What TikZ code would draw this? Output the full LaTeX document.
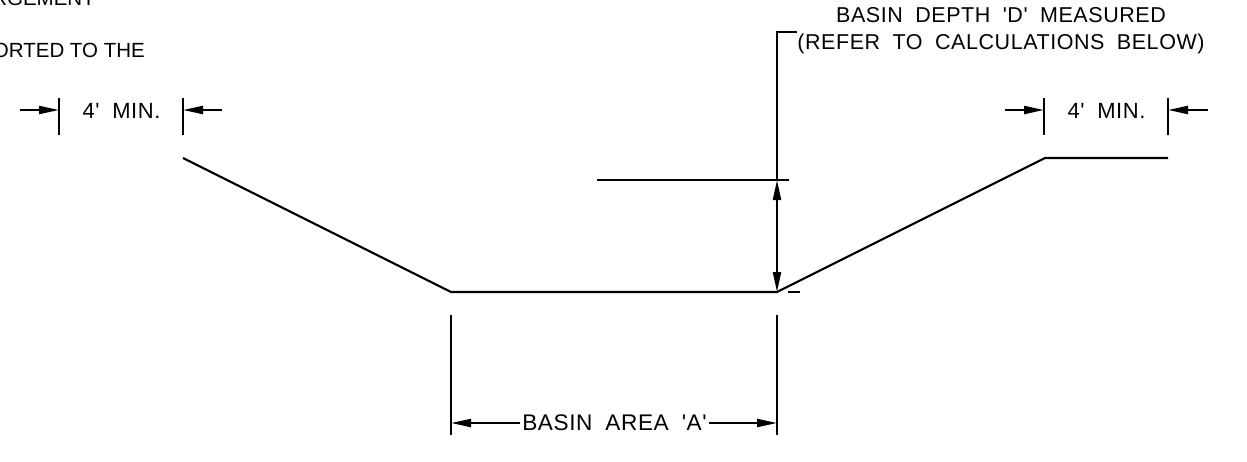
\documentclass[tikz,border=0pt]{standalone}
\usepackage{fontspec}
\setmainfont{Liberation Sans}
\newfontfamily\cadfont[LetterSpace=2.6,WordSpace=1.9]{Liberation Sans}
\usetikzlibrary{arrows.meta}
\tikzset{
  line/.style={line width=2.2pt,black},
  dim/.style={line width=2.2pt,black,-{Triangle[length=20pt,width=8pt]}},
  dimboth/.style={line width=2.2pt,black,{Triangle[length=20pt,width=8pt]}-{Triangle[length=20pt,width=8pt]}},
  cad/.style={inner sep=0pt,font=\cadfont\fontsize{22}{25}\selectfont,text=black},
  cadlabel/.style={inner sep=0pt,font=\cadfont\fontsize{21.5}{25}\selectfont,text=black},
  cadarea/.style={inner sep=0pt,font=\cadfont\fontsize{22.6}{25}\selectfont,text=black},
  note/.style={inner sep=0pt,anchor=base east,font=\fontsize{20.5}{24}\selectfont,text=black}
}
\begin{document}
\begin{tikzpicture}[x=1pt,y=-1pt]
\useasboundingbox (0,0) rectangle (1247,461);
% profile
\coordinate (p1) at (183,158);
\coordinate (p2) at (451,292);
\coordinate (p3) at (777,292);
\coordinate (p4) at (1045,158);
\coordinate (p5) at (1168,158);
\draw[line,line join=round] (p1) -- (p2) -- (p3) -- (p4) -- (p5);
% left 4' min
\coordinate (lt1) at (59,98); \coordinate (lb1) at (59,135);
\coordinate (lt2) at (183,98); \coordinate (lb2) at (183,135);
\draw[line] (lt1) -- (lb1);
\draw[line] (lt2) -- (lb2);
\coordinate (la1) at (20,110); \coordinate (la1e) at (59,110);
\coordinate (la2) at (222,110); \coordinate (la2e) at (183,110);
\draw[dim] (la1) -- (la1e);
\draw[dim] (la2) -- (la2e);
\node[cad] (minl) at (121.5,110.5) {4' MIN.};
% right 4' min
\coordinate (rt1) at (1044,98); \coordinate (rb1) at (1044,135);
\coordinate (rt2) at (1168,98); \coordinate (rb2) at (1168,135);
\draw[line] (rt1) -- (rb1);
\draw[line] (rt2) -- (rb2);
\coordinate (ra1) at (1005,110); \coordinate (ra1e) at (1044,110);
\coordinate (ra2) at (1208,110); \coordinate (ra2e) at (1168,110);
\draw[dim] (ra1) -- (ra1e);
\draw[dim] (ra2) -- (ra2e);
\node[cad] (minr) at (1106.5,110.5) {4' MIN.};
% depth leader
\coordinate (d0) at (797,32);
\coordinate (d1) at (777,32);
\coordinate (d2) at (777,180);
\draw[line] (d0) -- (d1) -- (d2);
\draw[dimboth] (d2) -- (p3);
\coordinate (wl) at (597,180); \coordinate (wr) at (789,180);
\draw[line] (wl) -- (wr);
\coordinate (t1) at (788,292); \coordinate (t2) at (800,292);
\draw[line] (t1) -- (t2);
% area dimension
\coordinate (a1t) at (451,315); \coordinate (a1b) at (451,435);
\coordinate (a2t) at (777,315); \coordinate (a2b) at (777,435);
\draw[line] (a1t) -- (a1b);
\draw[line] (a2t) -- (a2b);
\node[cadarea] (area) at (614.5,423) {BASIN AREA 'A'};
\coordinate (ac1) at (451,423); \coordinate (ac2) at (777,423);
\draw[dim] (area.west) ++(-2,0) -- (ac1);
\draw[dim] (area.east) ++(2,0) -- (ac2);
% labels
\node[cadlabel] (l1) at (1001,15) {BASIN DEPTH 'D' MEASURED};
\node[cadlabel] (l2) at (1001,44) {(REFER TO CALCULATIONS BELOW)};
\node[note] (n1) at (95,5) {RGEMENT};
\node[note] (n2) at (145,57) {ORTED TO THE};
\end{tikzpicture}
\end{document}
